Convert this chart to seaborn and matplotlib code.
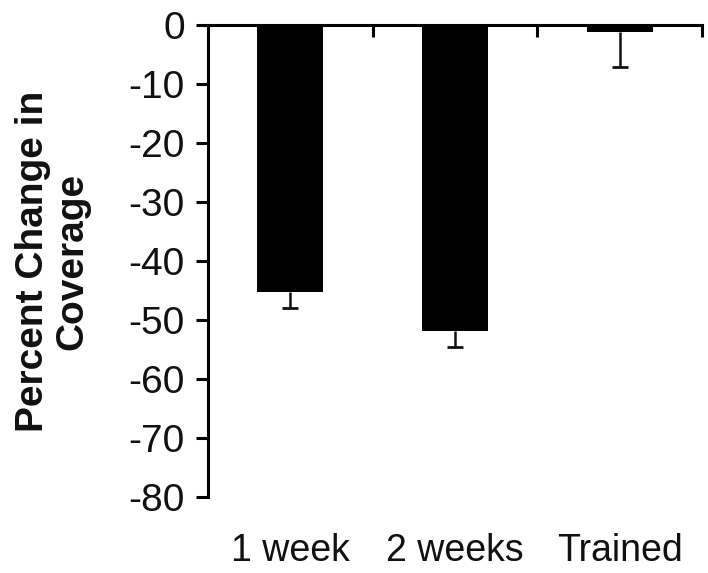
import matplotlib
matplotlib.use("Agg")
import matplotlib.pyplot as plt
import seaborn as sns
import numpy as np
import pandas as pd

categories = ["1 week", "2 weeks", "Trained"]
values = [-45.2, -51.9, -1.2]
errors = [2.8, 2.7, 5.9]
yticks = [0, -10, -20, -30, -40, -50, -60, -70, -80]

sns.set_style("white")
plt.rcParams['font.family'] = ['Liberation Sans', 'DejaVu Sans']
plt.rcParams['text.color'] = '#111111'
plt.rcParams['xtick.color'] = '#111111'
plt.rcParams['ytick.color'] = '#111111'
plt.rcParams['axes.labelcolor'] = '#111111'

fig = plt.figure(figsize=(7.08, 5.73), dpi=100)
ax = fig.add_axes([208/708, 1-497/573, (702-208)/708, (497-25)/573])

df = pd.DataFrame({"cat": categories, "val": values})
sns.barplot(data=df, x="cat", y="val", color="black", width=0.4,
            edgecolor="black", linewidth=0, ax=ax, errorbar=None, saturation=1)
x = np.arange(len(categories))
eb = ax.errorbar(x, values, yerr=[errors, [0]*len(errors)], fmt="none",
                 ecolor="#111111", elinewidth=1.8, capsize=5.5, capthick=2.0, zorder=3)
caps = eb[1]
if len(caps) > 1:
    caps[1].set_visible(False)

ax.set_xlim(-0.5, 2.5)
ax.set_ylim(-80, 0)
ax.set_yticks(yticks)
ax.set_yticklabels([str(v) for v in yticks], fontsize=28)
ax.set_xticks(x)
ax.set_xticklabels(categories, fontsize=27)
ax.tick_params(axis="x", which="major", length=0, pad=26, bottom=False, top=False)
ax.set_xticks([0.5, 1.5, 2.5], minor=True)
ax.tick_params(axis="x", which="minor", top=True, bottom=False, direction="in",
               length=8.6, width=2.2, color="black")
ax.tick_params(axis="y", which="major", left=True, direction="out", length=8.6,
               width=2.2, color="black", pad=8)

for s in ["bottom", "right"]:
    ax.spines[s].set_visible(False)
for s in ["top", "left"]:
    ax.spines[s].set_visible(True)
    ax.spines[s].set_linewidth(2.2)
    ax.spines[s].set_color("black")

ax.set_xlabel("")
ax.set_ylabel("Percent Change in\nCoverage", fontsize=28, fontweight="bold",
              linespacing=1.12)
ax.yaxis.set_label_coords(-0.238, 0.5)

fig.savefig("out.png", dpi=100)
